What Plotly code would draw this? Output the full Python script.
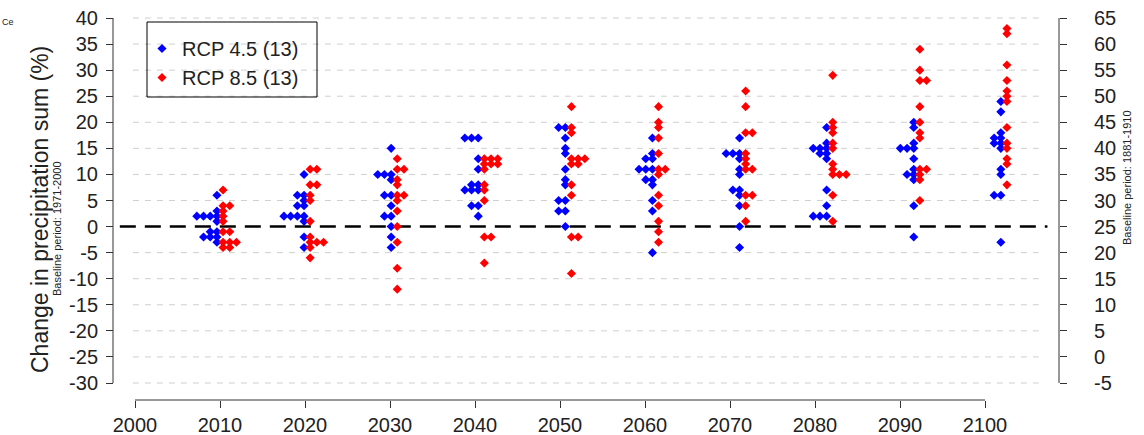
import plotly.graph_objects as go

W, H = 1144, 435

# ---------------- data ----------------
decades = [2010, 2020, 2030, 2040, 2050, 2060, 2070, 2080, 2090, 2100]

rcp45 = [
    [6, 3, 2, 2, 2, 2, 1, -1, -1, -2, -2, -2, -3],
    [10, 6, 6, 5, 4, 4, 2, 2, 2, 2, 1, -2, -4],
    [15, 10, 10, 10, 9, 6, 6, 4, 2, 2, 0, -2, -4],
    [17, 17, 17, 13, 11, 8, 8, 7, 7, 7, 4, 4, 2],
    [19, 19, 17, 15, 14, 11, 9, 8, 5, 5, 3, 3, 0],
    [17, 14, 13, 13, 11, 11, 11, 9, 9, 8, 5, 3, -5],
    [17, 14, 14, 14, 13, 11, 10, 7, 7, 6, 4, 0, -4],
    [19, 16, 15, 15, 15, 14, 14, 13, 7, 4, 2, 2, 2],
    [20, 19, 16, 15, 15, 15, 13, 11, 10, 10, 9, 4, -2],
    [24, 22, 18, 17, 17, 16, 16, 15, 11, 10, 6, 6, -3],
]

rcp85 = [
    [7, 4, 4, 3, 2, 1, -1, -1, -3, -3, -3, -4, -4],
    [11, 11, 8, 8, 6, 5, 1, -2, -3, -3, -3, -4, -6],
    [13, 11, 11, 9, 8, 6, 6, 5, 3, 0, -3, -8, -12],
    [13, 13, 13, 12, 12, 12, 11, 8, 7, 5, -2, -2, -7],
    [23, 19, 18, 13, 13, 13, 12, 12, 8, 6, -2, -2, -9],
    [23, 20, 19, 17, 14, 11, 11, 10, 6, 4, 1, -1, -3],
    [26, 23, 18, 18, 14, 13, 12, 11, 11, 6, 6, 4, 1],
    [29, 20, 19, 18, 16, 15, 12, 11, 10, 10, 10, 6, 1],
    [34, 30, 28, 28, 23, 20, 18, 17, 11, 11, 10, 9, 5],
    [38, 37, 31, 28, 26, 25, 24, 19, 16, 15, 13, 12, 8],
]

series_names = ["RCP 4.5 (13)", "RCP 8.5 (13)"]
series_colors = ["#0000FF", "#FF0000"]

x_ticks = list(range(2000, 2101, 10))
left_ticks = list(range(-30, 41, 5))
right_shift = 25          # baseline 1881-1910 vs 1971-2000
right_ticks = [t + right_shift for t in left_ticks]

# ---------------- geometry ----------------
def fx(p):
    return p / W

def fy(p):
    return 1 - p / H

X0_PX, X1_PX = 113, 1059          # plot region (axis lines)
TOP_PX, BOT_PX = 5, 400
# scale used for the point columns
PT_YR_PX = 8.71
PT_REF_YEAR, PT_REF_PX = 2010, 220
xr_pts = [PT_REF_YEAR + (X0_PX - PT_REF_PX) / PT_YR_PX,
          PT_REF_YEAR + (X1_PX - PT_REF_PX) / PT_YR_PX]
# scale used for the tick labels
LB_YR_PX = 8.5
LB_REF_YEAR, LB_REF_PX = 2000, 135
xr_lbl = [LB_REF_YEAR + (X0_PX - LB_REF_PX) / LB_YR_PX,
          LB_REF_YEAR + (X1_PX - LB_REF_PX) / LB_YR_PX]

U_PX = 365 / 70                   # pixels per % unit
Y40_PX = 18
yr = [40 - (BOT_PX - Y40_PX) / U_PX, 40 + (Y40_PX - TOP_PX) / U_PX]

COL_OFF = 0.35   # years from decade to first column
STEP = 0.77      # years between stacked points


def stacked(values_by_decade, side):
    xs, ys = [], []
    for dec, vals in zip(decades, values_by_decade):
        counts = {}
        for v in vals:
            k = counts.get(v, 0)
            counts[v] = k + 1
            xs.append(dec + side * (COL_OFF + STEP * k))
            ys.append(v)
    return xs, ys


fig = go.Figure()
for vals, side, name, col in zip([rcp45, rcp85], [-1, 1], series_names, series_colors):
    xs, ys = stacked(vals, side)
    fig.add_trace(go.Scatter(
        x=xs, y=ys, mode="markers", name=name,
        marker=dict(symbol="diamond", size=7, color=col, line=dict(width=0)),
        cliponaxis=False,
    ))

# invisible trace so the label axis and right axis are rendered
fig.add_trace(go.Scatter(x=[x_ticks[0]], y=[right_shift], xaxis="x2", yaxis="y2", mode="markers",
                         marker=dict(opacity=0), showlegend=False, hoverinfo="skip"))

shapes = []
# dashed grey gridlines
for t in left_ticks:
    if t == 0:
        continue
    shapes.append(dict(type="line", xref="x", yref="y", x0=2000, x1=2104, y0=t, y1=t,
                       line=dict(color="#CFCFCF", width=1, dash="6px,6px"), layer="below"))
# zero line
shapes.append(dict(type="line", xref="x", yref="y", x0=1998.5, x1=2105, y0=0, y1=0,
                   line=dict(color="black", width=2.5, dash="16px,9px"), layer="below"))
# axis lines
shapes.append(dict(type="line", xref="paper", yref="y", x0=fx(X0_PX), x1=fx(X0_PX),
                   y0=left_ticks[0], y1=left_ticks[-1], line=dict(color="#333", width=1)))
shapes.append(dict(type="line", xref="paper", yref="y", x0=fx(X1_PX), x1=fx(X1_PX),
                   y0=left_ticks[0], y1=left_ticks[-1], line=dict(color="#333", width=1)))
shapes.append(dict(type="line", xref="x2", yref="paper", x0=x_ticks[0], x1=x_ticks[-1],
                   y0=fy(BOT_PX), y1=fy(BOT_PX), line=dict(color="#333", width=1)))
# legend box
shapes.append(dict(type="rect", xref="paper", yref="paper", x0=fx(147), x1=fx(317),
                   y0=fy(97), y1=fy(22), line=dict(color="black", width=1)))

font_main = "Liberation Sans, Arial, sans-serif"

fig.update_layout(
    width=W, height=H,
    margin=dict(l=0, r=0, t=0, b=0),
    paper_bgcolor="white", plot_bgcolor="white",
    font=dict(family=font_main, size=20, color="#222"),
    showlegend=True,
    legend=dict(x=fx(142), y=fy(29), xanchor="left", yanchor="top",
                bgcolor="rgba(0,0,0,0)", borderwidth=0,
                font=dict(size=20, color="#222"), itemwidth=30, tracegroupgap=0),
    xaxis=dict(domain=[fx(X0_PX), fx(X1_PX)], range=xr_pts, anchor="free", position=fy(BOT_PX),
               showticklabels=False, ticks="",
               showline=False, showgrid=False, zeroline=False),
    xaxis2=dict(domain=[fx(X0_PX), fx(X1_PX)], range=xr_lbl, overlaying="x", anchor="free",
                position=fy(BOT_PX), side="bottom",
                tickvals=x_ticks, ticks="outside", ticklen=7, tickcolor="#333",
                showline=False, showgrid=False, zeroline=False),
    yaxis=dict(domain=[fy(BOT_PX), fy(TOP_PX)], range=yr, anchor="free", position=fx(X0_PX),
               tickvals=left_ticks, ticktext=[str(t) for t in left_ticks],
               ticks="outside", ticklen=7, tickcolor="#333", ticklabelstandoff=4,
               showline=False, showgrid=False, zeroline=False),
    yaxis2=dict(range=[yr[0] + right_shift, yr[1] + right_shift], overlaying="y", side="right",
                anchor="free", position=fx(X1_PX), tickvals=right_ticks,
                ticktext=[str(t) for t in right_ticks], ticks="outside",
                ticklen=7, tickcolor="#333", ticklabelstandoff=23,
                showline=False, showgrid=False, zeroline=False),
    shapes=shapes,
    annotations=[
        dict(text="Change in precipitation sum (%)", textangle=-90, xref="paper", yref="paper",
             x=fx(25), y=fy(210), showarrow=False, font=dict(size=23, color="#222")),
        dict(text="Baseline period: 1971-2000", textangle=-90, xref="paper", yref="paper",
             x=fx(49), y=fy(229), showarrow=False, font=dict(size=11, color="#222")),
        dict(text="Baseline period: 1881-1910", textangle=-90, xref="paper", yref="paper",
             x=fx(1135), y=fy(178), showarrow=False, font=dict(size=11, color="#222")),
        dict(text="Ce", xref="paper", yref="paper", x=fx(0), y=fy(15), xanchor="left",
             showarrow=False, font=dict(size=9, color="#222")),
    ],
)

fig.write_html("out.html")
